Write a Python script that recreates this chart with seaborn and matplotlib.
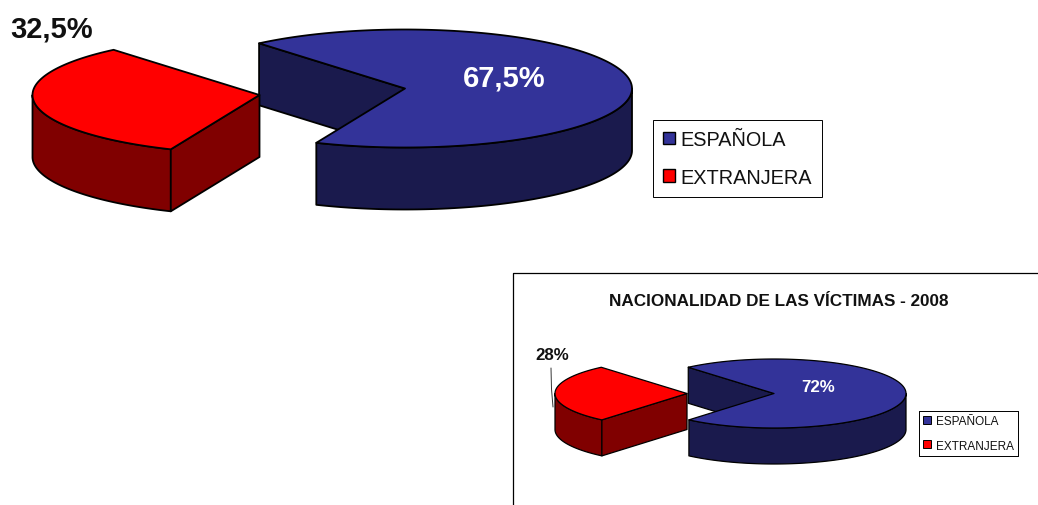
import numpy as np
import matplotlib
matplotlib.use("Agg")
import matplotlib.pyplot as plt
from matplotlib.patches import Patch
import seaborn as sns

categories = ["ESPAÑOLA", "EXTRANJERA"]
values_main = [67.5, 32.5]
labels_main = ["67,5%", "32,5%"]
values_2008 = [72.4, 27.6]
labels_2008 = ["72%", "28%"]
title_2008 = "NACIONALIDAD DE LAS VÍCTIMAS - 2008"

top_colors = ["#333399", "#FF0000"]
side_colors = ["#1A1A4D", "#800000"]

sns.set_theme(style="white")
plt.rcParams["font.family"] = ["Liberation Sans", "DejaVu Sans"]

fig = plt.figure(figsize=(10.38, 5.06), dpi=100)
ax = fig.add_axes([0, 0, 1, 1])
ax.set_xlim(0, 1038)
ax.set_ylim(506, 0)
ax.axis("off")


def arc(cx, cy, rx, ry, a0, a1):
    t = np.radians(np.linspace(a0, a1, 200))
    return cx + rx * np.cos(t), cy - ry * np.sin(t)


def poly(xs, ys, color, lw):
    ax.fill(xs, ys, facecolor=color, edgecolor="black", linewidth=lw, joinstyle="round")


def wall(ox, oy, rx, ry, a0, a1, depth, color, lw):
    wx, wy = arc(ox, oy, rx, ry, a0, a1)
    poly(np.r_[wx, wx[::-1]], np.r_[wy, wy[::-1] + depth], color, lw)


def pie3d(values, cx, cy, rx, ry, depth, start, dx, dy, lw):
    total = sum(values)
    # first slice runs clockwise from `start`, second slice fills the rest
    split = start - 360 * values[0] / total + 360

    # first slice: cut face along its starting edge, outer wall, top
    sx, sy = arc(cx, cy, rx, ry, start, split - 360)
    poly([sx[0], cx, cx, sx[0]], [sy[0], cy, cy + depth, sy[0] + depth], side_colors[0], lw)
    wall(cx, cy, rx, ry, split, 360, depth, side_colors[0], lw)
    poly(np.r_[cx, sx], np.r_[cy, sy], top_colors[0], lw)

    # second slice, pulled out of the pie
    ox, oy = cx + dx, cy + dy
    rx_, ry_ = arc(ox, oy, rx, ry, split, start)
    wall(ox, oy, rx, ry, 180, split, depth, side_colors[1], lw)
    poly([rx_[0], ox, ox, rx_[0]], [ry_[0], oy, oy + depth, ry_[0] + depth], side_colors[1], lw)
    poly(np.r_[ox, rx_], np.r_[oy, ry_], top_colors[1], lw)


def legend(x, y, size, lw, hl, ls, pad, tp):
    handles = [Patch(facecolor=c, edgecolor="black", linewidth=lw) for c in top_colors]
    leg = ax.legend(handles, categories, loc="upper left", bbox_to_anchor=(x, y),
                    bbox_transform=ax.transData, borderaxespad=0, fontsize=size,
                    handlelength=hl, handleheight=hl, labelspacing=ls, borderpad=pad,
                    handletextpad=tp, fancybox=False, framealpha=1, edgecolor="black",
                    labelcolor="#111111")
    leg.get_frame().set_linewidth(0.7)
    ax.add_artist(leg)


# Main chart
pie3d(values_main, 405, 89.5, 227, 59, 62, 130, -145.5, 6.5, 1.3)
ax.text(504, 78, labels_main[0], color="white", fontsize=21, fontweight="bold",
        ha="center", va="center")
ax.text(52, 29, labels_main[1], color="#111111", fontsize=21, fontweight="bold",
        ha="center", va="center")
legend(653, 121, 14.3, 1.0, 0.6, 0.95, 0.5, 0.3)

# 2008 chart
ax.plot([513, 513, 1038], [506, 274, 274], color="black", linewidth=0.9, solid_capstyle="butt")
ax.text(779, 302, title_2008, color="#111111", fontsize=12.3, fontweight="bold",
        ha="center", va="center")
pie3d(values_2008, 774, 394.5, 132, 34.5, 36, 130.5, -87, 0, 0.9)
ax.plot([551, 551.5, 553], [369, 390, 408], color="#333333", linewidth=0.7)
ax.text(552, 355, labels_2008[1], color="#111111", fontsize=12.2, fontweight="bold",
        ha="center", va="center")
ax.text(818.5, 388, labels_2008[0], color="white", fontsize=12.2, fontweight="bold",
        ha="center", va="center")
legend(919, 412, 8.5, 0.7, 0.65, 1.05, 0.35, 0.4)

fig.savefig("out.png", dpi=100, facecolor="white")
